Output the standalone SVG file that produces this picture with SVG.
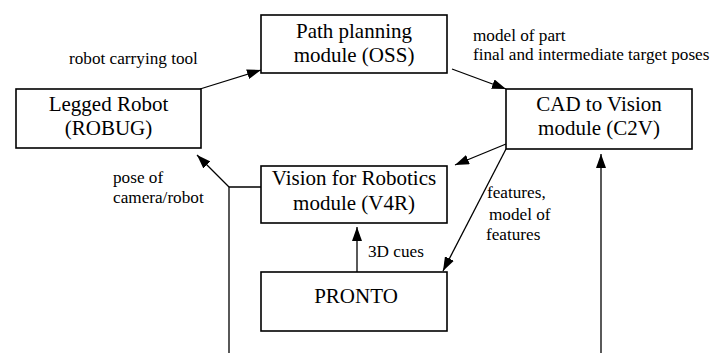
<svg xmlns="http://www.w3.org/2000/svg" width="719" height="353" viewBox="0 0 719 353">
<defs>
<marker id="ah" viewBox="0 0 14 10" refX="14" refY="5" markerWidth="14" markerHeight="10" markerUnits="userSpaceOnUse" orient="auto">
<path d="M0,0 L14,5 L0,10 Z" fill="#000"/>
</marker>
</defs>
<rect width="719" height="353" fill="#fff"/>
<g id="connectors" fill="none" stroke="#000" stroke-width="1.3">
<line x1="200" y1="89" x2="261" y2="70" marker-end="url(#ah)"/>
<line x1="452" y1="69" x2="506" y2="89" marker-end="url(#ah)"/>
<line x1="506" y1="144" x2="455" y2="165" marker-end="url(#ah)"/>
<line x1="506" y1="149" x2="443" y2="271" marker-end="url(#ah)"/>
<line x1="357" y1="272" x2="357" y2="227" marker-end="url(#ah)"/>
<line x1="601" y1="353" x2="601" y2="154" marker-end="url(#ah)"/>
<polyline points="229,353 229,187 261,187"/>
<line x1="229" y1="187" x2="197" y2="155" marker-end="url(#ah)"/>
</g>
<g id="labels" font-family="Liberation Serif, Times New Roman, serif" font-size="17.2" fill="#000">
<text x="69" y="64">robot carrying tool</text>
<text x="473" y="41">model of part</text>
<text x="473" y="60">final and intermediate target poses</text>
<text x="113" y="183">pose of</text>
<text x="113" y="203">camera/robot</text>
<text x="487" y="198">features,</text>
<text x="489" y="220">model of</text>
<text x="486" y="240">features</text>
<text x="368" y="257">3D cues</text>
</g>
<g font-family="Liberation Serif, Times New Roman, serif" font-size="21" text-anchor="middle" fill="#000">
<g id="legged">
<rect x="16" y="89" width="185" height="59" fill="#fff" stroke="#000" stroke-width="1.6"/>
<text x="108.5" y="111">Legged Robot</text>
<text x="108.5" y="135">(ROBUG)</text>
</g>
<g id="oss">
<rect x="261" y="15" width="186" height="58" fill="#fff" stroke="#000" stroke-width="1.6"/>
<text x="354" y="38">Path planning</text>
<text x="354" y="62">module (OSS)</text>
</g>
<g id="c2v">
<rect x="506" y="89" width="186" height="60" fill="#fff" stroke="#000" stroke-width="1.6"/>
<text x="599" y="111">CAD to Vision</text>
<text x="599" y="135">module (C2V)</text>
</g>
<g id="v4r">
<rect x="261" y="166" width="186" height="57" fill="#fff" stroke="#000" stroke-width="1.6"/>
<text x="354" y="185">Vision for Robotics</text>
<text x="354" y="210">module (V4R)</text>
</g>
<g id="pronto">
<rect x="261" y="272" width="186" height="59" fill="#fff" stroke="#000" stroke-width="1.6"/>
<text x="356" y="303">PRONTO</text>
</g>
</g>
</svg>
